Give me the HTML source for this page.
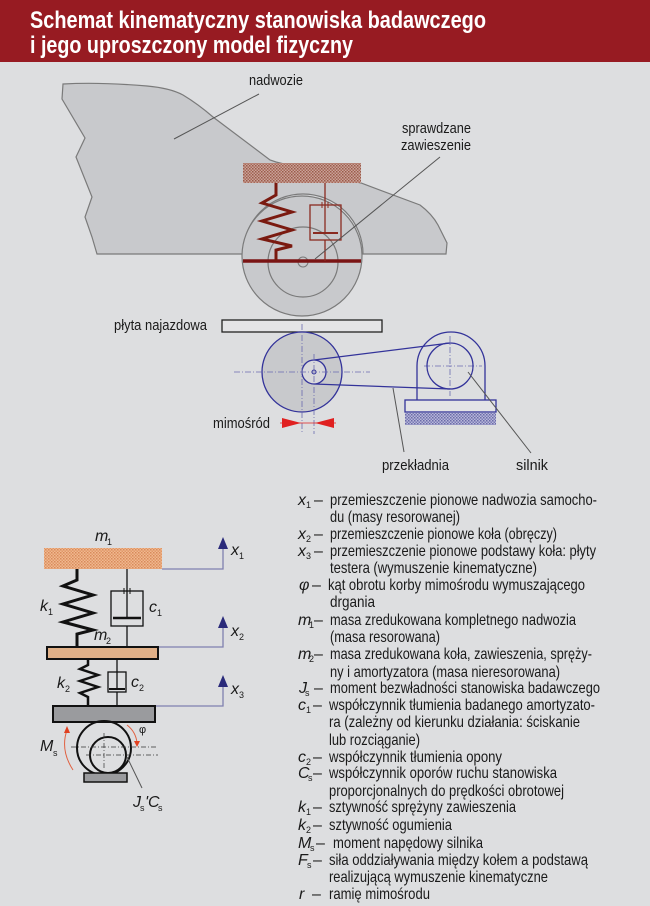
<!DOCTYPE html>
<html><head><meta charset="utf-8"><style>
html,body{margin:0;padding:0;background:#dddee0;}
svg{display:block}
text{font-family:"Liberation Sans Narrow","Liberation Sans",sans-serif;fill:#1a1a1a}
.t{font-size:15px}
.l{font-size:16px}
.s{font-size:9px}
</style></head><body>
<svg width="650" height="906" viewBox="0 0 650 906" xmlns="http://www.w3.org/2000/svg">
<defs>
<pattern id="hb" width="3" height="3" patternUnits="userSpaceOnUse"><rect width="3" height="3" fill="#c9a49a"/><rect width="1.5" height="1.5" fill="#9a5a4a"/><rect x="1.5" y="1.5" width="1.5" height="1.5" fill="#a86858"/></pattern>
<pattern id="ho" width="3" height="3" patternUnits="userSpaceOnUse"><rect width="3" height="3" fill="#f0b890"/><rect width="1.5" height="1.5" fill="#d88a5a"/><rect x="1.5" y="1.5" width="1.5" height="1.5" fill="#e09868"/></pattern>
<pattern id="hv" width="3" height="3" patternUnits="userSpaceOnUse"><rect width="3" height="3" fill="#b8b8d8"/><rect width="1.5" height="1.5" fill="#6a6aa8"/><rect x="1.5" y="1.5" width="1.5" height="1.5" fill="#7a7ab8"/></pattern>
</defs>
<rect x="0" y="0" width="650" height="62" fill="#971b22"/>
<text x="30" y="28" font-size="24" font-weight="bold" style="fill:#fff" textLength="456" lengthAdjust="spacingAndGlyphs">Schemat kinematyczny stanowiska badawczego</text>
<text x="30" y="53" font-size="24" font-weight="bold" style="fill:#fff" textLength="323" lengthAdjust="spacingAndGlyphs">i jego uproszczony model fizyczny</text>

<path d="M63,84 Q100,82 147,86 Q170,88 183,95 Q198,104 213,117 L270,160 L276,162 L361,183 L420,205 Q432,214 438,225 L447,243 L446,254 L363,254 A60,60 0 0 0 243,254 L97,254 L92,237 L85,217 L92,197 L76,157 L85,138 L62,99 Z" fill="#c8c9cc" stroke="#7a7a7a" stroke-width="1.2"/>
<line x1="259" y1="94" x2="174" y2="139" stroke="#555" stroke-width="1"/>
<text class="t" x="249" y="85" textLength="54" lengthAdjust="spacingAndGlyphs">nadwozie</text>
<circle cx="302" cy="256" r="60" fill="#c8c9cc" stroke="#7a7a7a" stroke-width="1.2"/>
<circle cx="303" cy="262" r="35" fill="#c8c9cc" stroke="#7a7a7a" stroke-width="1.2"/>
<ellipse cx="303" cy="262" rx="5" ry="5" fill="none" stroke="#7a7a7a"/>
<rect x="243" y="163" width="118" height="20" fill="url(#hb)"/>
<line x1="243" y1="261" x2="361" y2="261" stroke="#7a1414" stroke-width="3.5"/>
<polyline points="276,183 276,195 262,203 292,212 262,221 292,230 262,239 292,246 276,250 276,261" fill="none" stroke="#7a1a10" stroke-width="3"/>
<line x1="325" y1="183" x2="325" y2="233" stroke="#8a2a20" stroke-width="1.3"/>
<rect x="310" y="205" width="31" height="35" fill="none" stroke="#8a2a20" stroke-width="1.3"/>
<line x1="313" y1="233" x2="338" y2="233" stroke="#8a2a20" stroke-width="2"/>
<line x1="322" y1="202" x2="322" y2="208" stroke="#8a2a20"/><line x1="328" y1="202" x2="328" y2="208" stroke="#8a2a20"/>
<line x1="325" y1="240" x2="325" y2="261" stroke="#8a2a20" stroke-width="1.3"/>
<line x1="440" y1="157" x2="315" y2="259" stroke="#555" stroke-width="1"/>
<text class="t" x="402" y="133" textLength="69" lengthAdjust="spacingAndGlyphs">sprawdzane</text>
<text class="t" x="401" y="150" textLength="70" lengthAdjust="spacingAndGlyphs">zawieszenie</text>
<rect x="222" y="320" width="160" height="12" fill="#e4e4e6" stroke="#222" stroke-width="1.3"/>
<text class="t" x="114" y="330" textLength="93" lengthAdjust="spacingAndGlyphs">płyta najazdowa</text>
<circle cx="302" cy="372" r="40" fill="#c8c9cc" stroke="#33339a" stroke-width="1.3"/>
<line x1="314" y1="360" x2="450" y2="343" stroke="#33339a" stroke-width="1.2"/>
<line x1="314" y1="384" x2="450" y2="389" stroke="#33339a" stroke-width="1.2"/>
<circle cx="314" cy="372" r="12" fill="#d8d8dc" stroke="#33339a" stroke-width="1.3"/>
<circle cx="314" cy="372" r="2" fill="none" stroke="#33339a"/>
<g stroke="#6a6ab0" stroke-width="0.8" stroke-dasharray="6,2,1,2">
<line x1="234" y1="372" x2="370" y2="372"/>
<line x1="302" y1="324" x2="302" y2="434"/>
<line x1="314" y1="354" x2="314" y2="434"/>
<line x1="424" y1="366" x2="482" y2="366"/>
<line x1="450" y1="336" x2="450" y2="396"/>
</g>
<path d="M417,400 L417,366 A34,34 0 0 1 485,366 L485,400" fill="none" stroke="#33339a" stroke-width="1.3"/>
<circle cx="450" cy="366" r="23" fill="none" stroke="#33339a" stroke-width="1.3"/>
<rect x="405" y="400" width="91" height="12" fill="#e4e4e6" stroke="#33339a" stroke-width="1.3"/>
<rect x="405" y="413" width="91" height="12" fill="url(#hv)"/>
<polygon points="282,418 282,428 301,423" fill="#e02020"/>
<polygon points="334,418 334,428 315,423" fill="#e02020"/>
<line x1="280" y1="423" x2="336" y2="423" stroke="#e02020" stroke-width="0.8"/>
<text class="t" x="213" y="428" textLength="57" lengthAdjust="spacingAndGlyphs">mimośród</text>
<line x1="393" y1="388" x2="404" y2="452" stroke="#555"/>
<line x1="468" y1="372" x2="531" y2="453" stroke="#555"/>
<text class="t" x="382" y="470" textLength="67" lengthAdjust="spacingAndGlyphs">przekładnia</text>
<text class="t" x="516" y="470" textLength="32" lengthAdjust="spacingAndGlyphs">silnik</text>

<g stroke="#8080b0" stroke-width="1.3" fill="none">
<polyline points="162,569 223,569 223,545"/>
<polyline points="158,647 223,647 223,624"/>
<polyline points="155,706 223,706 223,682"/>
</g>
<g fill="#2a2a7a">
<polygon points="218,549 228,549 223,537"/>
<polygon points="218,628 228,628 223,616"/>
<polygon points="218,687 228,687 223,675"/>
</g>
<rect x="44" y="548" width="118" height="21" fill="url(#ho)"/>
<polyline points="77,569 77,580 63,586 93,595 63,604 93,613 63,622 93,630 77,634 77,647" fill="none" stroke="#111" stroke-width="3"/>
<line x1="127" y1="569" x2="127" y2="618" stroke="#111" stroke-width="1.3"/>
<rect x="111" y="591" width="32" height="35" fill="none" stroke="#111" stroke-width="1.3"/>
<line x1="113" y1="618" x2="141" y2="618" stroke="#111" stroke-width="2.5"/>
<line x1="124" y1="588" x2="124" y2="594" stroke="#111"/><line x1="130" y1="588" x2="130" y2="594" stroke="#111"/>
<line x1="127" y1="626" x2="127" y2="647" stroke="#111" stroke-width="1.3"/>
<rect x="47" y="647" width="111" height="12" fill="#e0b088" stroke="#111" stroke-width="2"/>
<polyline points="88,659 88,665 80,669 98,675 80,681 98,687 80,693 88,697 88,706" fill="none" stroke="#111" stroke-width="2.5"/>
<line x1="117" y1="659" x2="117" y2="689" stroke="#111" stroke-width="1.3"/>
<rect x="108" y="672" width="18" height="20" fill="none" stroke="#111" stroke-width="1.3"/>
<line x1="109" y1="689" x2="125" y2="689" stroke="#111" stroke-width="2"/>
<line x1="117" y1="692" x2="117" y2="706" stroke="#111" stroke-width="1.3"/>
<rect x="53" y="706" width="102" height="16" fill="#9a9b9e" stroke="#111" stroke-width="2"/>
<circle cx="104" cy="748" r="27" fill="none" stroke="#111" stroke-width="2"/>
<circle cx="108" cy="755" r="18" fill="none" stroke="#111" stroke-width="2"/>
<rect x="84" y="773" width="43" height="9" fill="#9a9b9e" stroke="#111" stroke-width="1.5"/>
<g stroke="#333" stroke-width="0.7" stroke-dasharray="5,2,1,2">
<line x1="71" y1="747" x2="158" y2="747"/><line x1="86" y1="755" x2="158" y2="755"/>
<line x1="104" y1="733" x2="104" y2="770"/>
</g>
<path d="M73,770 Q60,750 67,730" fill="none" stroke="#e06040" stroke-width="1"/>
<polygon points="64,733 70,733 67,726" fill="#e04020"/>
<path d="M127,725 Q136,732 137,743" fill="none" stroke="#e06040" stroke-width="1"/>
<polygon points="134,741 140,741 137,747" fill="#e04020"/>
<line x1="127" y1="757" x2="142" y2="788" stroke="#555"/>
<g>
<text x="95" y="541" font-size="16" font-style="italic">m</text><text x="107" y="545" class="s">1</text>
<text x="40" y="611" font-size="16" font-style="italic">k</text><text x="48" y="615" class="s">1</text>
<text x="149" y="612" font-size="16" font-style="italic">c</text><text x="157" y="616" class="s">1</text>
<text x="94" y="640" font-size="16" font-style="italic">m</text><text x="106" y="644" class="s">2</text>
<text x="57" y="688" font-size="16" font-style="italic">k</text><text x="65" y="692" class="s">2</text>
<text x="131" y="687" font-size="16" font-style="italic">c</text><text x="139" y="691" class="s">2</text>
<text x="231" y="555" font-size="16" font-style="italic">x</text><text x="239" y="559" class="s">1</text>
<text x="231" y="636" font-size="16" font-style="italic">x</text><text x="239" y="640" class="s">2</text>
<text x="231" y="694" font-size="16" font-style="italic">x</text><text x="239" y="698" class="s">3</text>
<text x="40" y="751" font-size="16" font-style="italic">M</text><text x="53" y="756" class="s">s</text>
<text x="139" y="733" font-size="11">φ</text>
<text x="133" y="807" font-size="16" font-style="italic">J</text><text x="140" y="811" class="s">s</text><text x="145" y="807" font-size="16" font-style="italic">'C</text><text x="158" y="811" class="s">s</text>
</g>

<g class="l">
<text x="298" y="505" font-style="italic">x</text><text x="306" y="508" class="s">1</text><text x="314" y="505">–</text>
<text x="330" y="505" textLength="267" lengthAdjust="spacingAndGlyphs">przemieszczenie pionowe nadwozia samocho-</text>
<text x="330" y="522" textLength="130" lengthAdjust="spacingAndGlyphs">du (masy resorowanej)</text>
<text x="298" y="539" font-style="italic">x</text><text x="306" y="542" class="s">2</text><text x="314" y="539">–</text>
<text x="330" y="539" textLength="227" lengthAdjust="spacingAndGlyphs">przemieszczenie pionowe koła (obręczy)</text>
<text x="298" y="556" font-style="italic">x</text><text x="306" y="559" class="s">3</text><text x="314" y="556">–</text>
<text x="330" y="556" textLength="266" lengthAdjust="spacingAndGlyphs">przemieszczenie pionowe podstawy koła: płyty</text>
<text x="330" y="573" textLength="207" lengthAdjust="spacingAndGlyphs">testera (wymuszenie kinematyczne)</text>
<text x="299" y="590" font-style="italic">φ</text><text x="312" y="590">–</text>
<text x="328" y="590" textLength="257" lengthAdjust="spacingAndGlyphs">kąt obrotu korby mimośrodu wymuszającego</text>
<text x="330" y="607" textLength="45" lengthAdjust="spacingAndGlyphs">drgania</text>
<text x="298" y="625" font-style="italic">m</text><text x="309" y="628" class="s">1</text><text x="314" y="625">–</text>
<text x="330" y="625" textLength="246" lengthAdjust="spacingAndGlyphs">masa zredukowana kompletnego nadwozia</text>
<text x="330" y="642" textLength="110" lengthAdjust="spacingAndGlyphs">(masa resorowana)</text>
<text x="298" y="659" font-style="italic">m</text><text x="309" y="662" class="s">2</text><text x="314" y="659">–</text>
<text x="330" y="659" textLength="262" lengthAdjust="spacingAndGlyphs">masa zredukowana koła, zawieszenia, spręży-</text>
<text x="330" y="677" textLength="230" lengthAdjust="spacingAndGlyphs">ny i amortyzatora (masa nieresorowana)</text>
<text x="299" y="693" font-style="italic">J</text><text x="305" y="696" class="s">s</text><text x="314" y="693">–</text>
<text x="330" y="693" textLength="270" lengthAdjust="spacingAndGlyphs">moment bezwładności stanowiska badawczego</text>
<text x="298" y="710" font-style="italic">c</text><text x="306" y="713" class="s">1</text><text x="313" y="710">–</text>
<text x="329" y="710" textLength="266" lengthAdjust="spacingAndGlyphs">współczynnik tłumienia badanego amortyzato-</text>
<text x="329" y="727" textLength="251" lengthAdjust="spacingAndGlyphs">ra (zależny od kierunku działania: ściskanie</text>
<text x="329" y="745" textLength="91" lengthAdjust="spacingAndGlyphs">lub rozciąganie)</text>
<text x="298" y="762" font-style="italic">c</text><text x="306" y="765" class="s">2</text><text x="313" y="762">–</text>
<text x="329" y="762" textLength="173" lengthAdjust="spacingAndGlyphs">współczynnik tłumienia opony</text>
<text x="298" y="778" font-style="italic">C</text><text x="308" y="781" class="s">s</text><text x="313" y="778">–</text>
<text x="329" y="778" textLength="228" lengthAdjust="spacingAndGlyphs">współczynnik oporów ruchu stanowiska</text>
<text x="329" y="796" textLength="235" lengthAdjust="spacingAndGlyphs">proporcjonalnych do prędkości obrotowej</text>
<text x="298" y="812" font-style="italic">k</text><text x="306" y="815" class="s">1</text><text x="313" y="812">–</text>
<text x="329" y="812" textLength="187" lengthAdjust="spacingAndGlyphs">sztywność sprężyny zawieszenia</text>
<text x="298" y="830" font-style="italic">k</text><text x="306" y="833" class="s">2</text><text x="313" y="830">–</text>
<text x="329" y="830" textLength="123" lengthAdjust="spacingAndGlyphs">sztywność ogumienia</text>
<text x="298" y="848" font-style="italic">M</text><text x="310" y="851" class="s">s</text><text x="316" y="848">–</text>
<text x="333" y="848" textLength="150" lengthAdjust="spacingAndGlyphs">moment napędowy silnika</text>
<text x="298" y="865" font-style="italic">F</text><text x="307" y="868" class="s">s</text><text x="313" y="865">–</text>
<text x="329" y="865" textLength="259" lengthAdjust="spacingAndGlyphs">siła oddziaływania między kołem a podstawą</text>
<text x="329" y="882" textLength="219" lengthAdjust="spacingAndGlyphs">realizującą wymuszenie kinematyczne</text>
<text x="299" y="899" font-style="italic">r</text><text x="312" y="899">–</text>
<text x="329" y="899" textLength="101" lengthAdjust="spacingAndGlyphs">ramię mimośrodu</text>
</g>
</svg>
</body></html>
